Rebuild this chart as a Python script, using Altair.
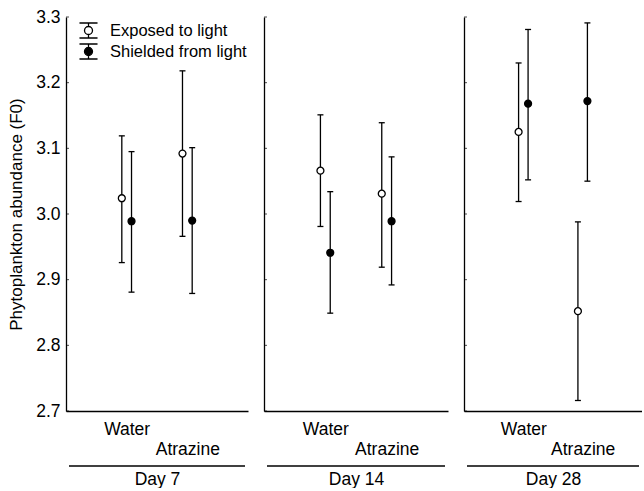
import altair as alt
import pandas as pd

FONT = "Liberation Sans"

days = ["Day 7", "Day 14", "Day 28"]
treatments = ["Water", "Atrazine"]
conditions = ["Exposed to light", "Shielded from light"]

# order in each list: Water/Exposed, Water/Shielded, Atrazine/Exposed, Atrazine/Shielded
day7_mean = [3.024, 2.989, 3.092, 2.990]
day7_lo = [2.926, 2.881, 2.966, 2.879]
day7_hi = [3.119, 3.095, 3.218, 3.101]

day14_mean = [3.066, 2.941, 3.031, 2.989]
day14_lo = [2.981, 2.849, 2.919, 2.892]
day14_hi = [3.151, 3.034, 3.139, 3.087]

day28_mean = [3.125, 3.168, 2.852, 3.172]
day28_lo = [3.019, 3.052, 2.716, 3.050]
day28_hi = [3.230, 3.281, 2.988, 3.291]

y_ticks = [2.7, 2.8, 2.9, 3.0, 3.1, 3.2, 3.3]

means = {"Day 7": day7_mean, "Day 14": day14_mean, "Day 28": day28_mean}
lows = {"Day 7": day7_lo, "Day 14": day14_lo, "Day 28": day28_lo}
highs = {"Day 7": day7_hi, "Day 14": day14_hi, "Day 28": day28_hi}

rows = []
for d in days:
    k = 0
    for t in treatments:
        for c in conditions:
            rows.append(dict(day=d, treatment=t, condition=c,
                             mean=means[d][k], lo=lows[d][k], hi=highs[d][k]))
            k += 1
df = pd.DataFrame(rows)

widths = {"Day 7": 182, "Day 14": 184, "Day 28": 178}
H = 394
LW = 1.3

legend_path = ("M-0.95,-0.79H0.95M-0.95,0.79H0.95M0,-0.79V-0.42M0,0.42V0.79"
               "M-0.42,0A0.42,0.42 0 1,0 0.42,0A0.42,0.42 0 1,0 -0.42,0Z")


def panel(i, d):
    w = widths[d]
    first = i == 0
    sub = df[df.day == d]

    if first:
        yaxis = alt.Axis(values=y_ticks, format=".1f", ticks=False, labelPadding=6,
                         labelFontSize=17.5, labelFont=FONT, labelColor="black",
                         title="Phytoplankton abundance (F0)", titleFontSize=17,
                         titleFont=FONT, titleFontWeight="normal", titleColor="black",
                         titlePadding=10, grid=False, domainColor="black", domainWidth=LW)
    else:
        yaxis = alt.Axis(values=y_ticks, labels=False, ticks=False, title=None,
                         grid=False, domainColor="black", domainWidth=LW)

    yscale = alt.Scale(domain=[2.7, 3.3], nice=False, zero=False)

    def Y(field):
        return alt.Y(field, scale=yscale, axis=yaxis,
                     title="Phytoplankton abundance (F0)" if first else None)

    xaxis = alt.Axis(values=[1, 2], ticks=False,
                     labelExpr="datum.value == 1 ? 'Water' : ['', 'Atrazine']",
                     labelFontSize=17.5, labelFont=FONT, labelColor="black",
                     labelLineHeight=20, labelPadding=9, labelOverlap=False,
                     labelFlush=False, labelBaseline="top",
                     title=d, titleFontSize=17.5, titleFont=FONT,
                     titleFontWeight="normal", titleColor="black", titlePadding=13,
                     grid=False, domainColor="black", domainWidth=LW)
    X = alt.X("pos:Q", scale=alt.Scale(domain=[0, 3], nice=False, zero=False),
              axis=xaxis, title=d)

    base = alt.Chart(sub).transform_calculate(
        pos="(datum.treatment == 'Water' ? 1 : 2) + "
            "(datum.condition == 'Exposed to light' ? -0.08 : 0.08)"
    )

    rule = base.mark_rule(color="black", strokeWidth=LW).encode(
        x=X, y=Y("lo:Q"), y2="hi:Q")
    cap_lo = base.mark_tick(orient="horizontal", size=6, thickness=LW,
                            color="black", opacity=1).encode(x=X, y=Y("lo:Q"))
    cap_hi = base.mark_tick(orient="horizontal", size=6, thickness=LW,
                            color="black", opacity=1).encode(x=X, y=Y("hi:Q"))

    if first:
        leg = alt.Legend(orient="none", legendX=12, legendY=3, title=None,
                         symbolType=legend_path, symbolSize=361,
                         symbolStrokeColor="black", symbolStrokeWidth=LW,
                         symbolOpacity=1, labelFontSize=16.5, labelFont=FONT,
                         labelColor="black", labelOffset=11, rowPadding=0,
                         padding=0, labelLimit=300)
    else:
        leg = None

    pts = base.mark_point(shape="circle", filled=True, size=48, stroke="black",
                          strokeWidth=LW, opacity=1).encode(
        x=X, y=Y("mean:Q"),
        fill=alt.Fill("condition:N",
                      scale=alt.Scale(domain=conditions, range=["white", "black"]),
                      legend=leg),
    )

    ticks = alt.Chart(pd.DataFrame({"v": y_ticks})).mark_tick(
        orient="horizontal", size=3, thickness=1, color="black").encode(
        y=Y("v:Q"), x=alt.value(1.5))

    sep = alt.Chart(pd.DataFrame({"a": [0]})).mark_rule(
        color="black", strokeWidth=LW).encode(
        x=alt.value(3), x2=alt.value(w - 3), y=alt.value(H + 55))

    return alt.layer(rule, cap_lo, cap_hi, pts, ticks, sep).properties(
        width=w, height=H)


chart = alt.hconcat(*[panel(i, d) for i, d in enumerate(days)], spacing=16).resolve_scale(
    fill="independent"
).properties(
    padding={"left": 7, "top": 8, "right": 0, "bottom": 0},
    background="white",
).configure_view(stroke=None)

chart.save("out.html", embed_options={"renderer": "svg", "actions": False})
